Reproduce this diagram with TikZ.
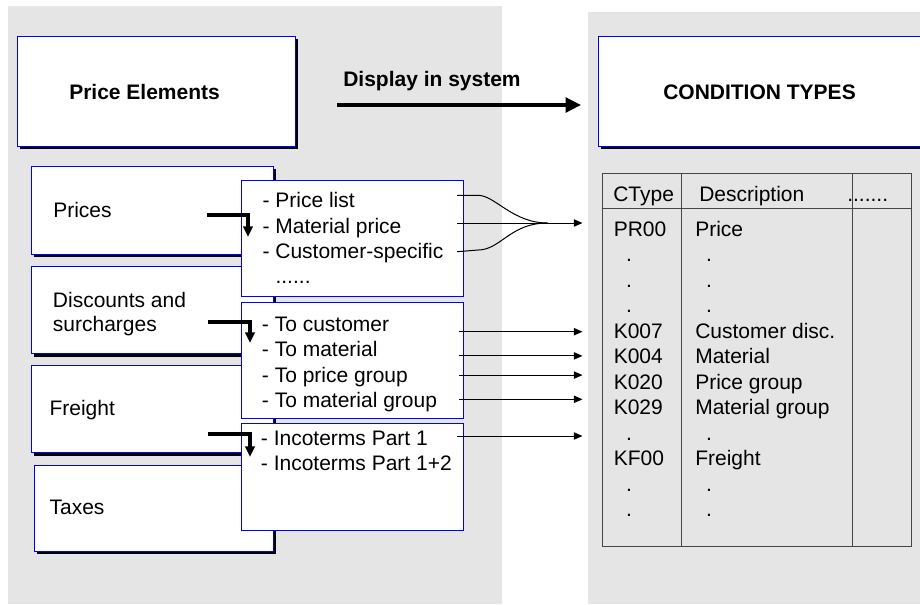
\documentclass[tikz,border=0pt]{standalone}
\usepackage{fontspec}
\setmainfont{Liberation Sans}
\usetikzlibrary{positioning,calc,arrows.meta,shadows}
\definecolor{panelgray}{RGB}{229,229,229}
\definecolor{rulegray}{RGB}{70,70,70}
\newcommand{\diagfont}{\fontsize{15.75}{19.2}\selectfont}
\tikzstyle{panel}=[fill=panelgray]
\tikzstyle{framebox}=[draw=blue, fill=white, line width=0.75pt, inner sep=0, outer sep=0]
\tikzstyle{shadowbox}=[framebox, general shadow={fill=black, shadow xshift=2.25pt, shadow yshift=-2.25pt}]
\tikzstyle{itemtext}=[inner sep=0, anchor=base west, text height=12pt, text depth=3pt, font=\diagfont]
\tikzstyle{titletext}=[itemtext, font=\diagfont\bfseries]
\tikzstyle{conn}=[line width=0.75pt, -{Triangle[length=6.5pt, width=5.5pt]}]
\tikzstyle{bentarrow}=[line width=2.5pt, -{Triangle[length=8pt, width=7pt]}]
\tikzstyle{bigarrow}=[line width=2.5pt, -{Triangle[length=11.5pt, width=11pt]}]
\tikzstyle{tablerule}=[draw=rulegray, line width=0.75pt]

\begin{document}
\begin{tikzpicture}[x=0.75pt, y=-0.75pt]
    \useasboundingbox (0,0) rectangle (920,604);
    \clip (0,0) rectangle (920,604);
    % grey panels
    \fill[panel] (8,6) rectangle (502,604);
    \fill[panel] (588,12) rectangle (920,604);

    % headings
    \node[shadowbox, minimum width=262.5pt, minimum height=82.5pt] (ctypes) at (773,91) {};
    \node[shadowbox, minimum width=208.5pt, minimum height=82.5pt] (elem) at (156,91) {};
    \node[titletext] (elemlabel) at (69,99.3) {Price Elements};
    \node[titletext, anchor=base] (ctypeslabel) at (759.5,99.3) {CONDITION TYPES};
    \node[titletext] (displabel) at (343,86) {Display in system};
    \draw[bigarrow] ($(elem.east)+(42,14)$) -- ($(ctypes.west)+(-17,14)$);

    % price elements
    \node[shadowbox, minimum width=181.5pt, minimum height=66pt] (prices) at (152,210) {};
    \node[shadowbox, minimum width=181.5pt, minimum height=65.25pt, below=9.5pt of prices] (disc) {};
    \node[shadowbox, minimum width=181.5pt, minimum height=65.25pt, below=9pt of disc] (freight) {};
    \node[shadowbox, minimum width=179.25pt, minimum height=64.5pt, below=9.5pt of freight.south east, anchor=north east] (taxes) {};
    \node[itemtext] (priceslabel) at (53,217.3) {Prices};
    \node[itemtext] (disclabel) at (52.7,307.3) {Discounts and};
    \node[itemtext] (surchlabel) at (52.7,331.7) {surcharges};
    \node[itemtext] (freightlabel) at (49.3,415) {Freight};
    \node[itemtext] (taxeslabel) at (49.3,514) {Taxes};

    % detail lists
    \node[framebox, minimum width=166.5pt, minimum height=87pt] (pop1) at (352,238) {};
    \node[framebox, minimum width=166.5pt, minimum height=87pt] (pop2) at (352,360) {};
    \node[framebox, minimum width=166.5pt, minimum height=80.25pt] (pop3) at (352,476.5) {};
    \foreach \txt [count=\i] in {Price list, Material price, Customer-specific}
        \node[itemtext] (pl\i) at (262.3,{207.3+25.7*(\i-1)}) {- \txt};
    \node[itemtext] (pldots) at (275.3,283.3) {......};
    \foreach \txt [count=\i] in {To customer, To material, To price group, To material group}
        \node[itemtext] (dc\i) at (261.7,{331.7+25.2*(\i-1)}) {- \txt};
    \foreach \txt [count=\i] in {Incoterms Part 1, Incoterms Part 1+2}
        \node[itemtext] (ic\i) at (260.7,{445+25.7*(\i-1)}) {- \txt};

    % bent arrows into the lists
    \coordinate (pricesout) at (207,215);
    \coordinate (pricesin) at (248,237);
    \coordinate (discout) at (208,322);
    \coordinate (discin) at (250,343);
    \coordinate (freightout) at (208,434);
    \coordinate (freightin) at (250,457);
    \draw[bentarrow] (pricesout) -| (pricesin);
    \draw[bentarrow] (discout) -| (discin);
    \draw[bentarrow] (freightout) -| (freightin);

    % condition type table
    \node[tablerule, minimum width=231.75pt, minimum height=279.75pt, inner sep=0] (ctab) at (756.5,359.5) {};
    \draw[tablerule] (ctab.west |- 0,208) -- (ctab.east |- 0,208);
    \foreach \cx in {681,852}
        \draw[tablerule] (\cx,0 |- ctab.north) -- (\cx,0 |- ctab.south);
    \node[itemtext] (hctype) at (613,201.7) {CType};
    \node[itemtext] (hdesc) at (699,201.7) {Description};
    \node[itemtext] (hmore) at (847,201.7) {.......};
    \foreach \code/\desc/\row in {PR00/Price/0, K007/Customer disc./4, K004/Material/5,
                                  K020/Price group/6, K029/Material group/7, KF00/Freight/9} {
        \node[itemtext] (code\row) at (613.5,{236+25.5*\row}) {\code};
        \node[itemtext] (desc\row) at (695,{236+25.5*\row}) {\desc};
    }
    \foreach \row in {1,2,3,8,10,11} {
        \node[itemtext, anchor=base] (cdot\row) at (629,{236+25.5*\row}) {.};
        \node[itemtext, anchor=base] (ddot\row) at (709,{236+25.5*\row}) {.};
    }

    % connectors to the table
    \coordinate (fan) at ($(ctab.west |- pl2)+(-54,-4)$);
    \draw[conn] ($(pop1.east |- pl2)+(-6,-4)$) -- ($(ctab.west |- pl2)+(-19,-4)$);
    \draw[line width=0.75pt] ($(pop1.east |- pl1)+(-6,-6)$) -- ++(21,0) .. controls +(17,0) and +(-35,0) .. (fan);
    \draw[line width=0.75pt] ($(pop1.east |- pl3)+(-6,-1)$) -- ++(25,-2) .. controls +(20,-3) and +(-35,0) .. (fan);
    \foreach \i/\dy in {1/6, 2/5, 3/-1, 4/-2}
        \draw[conn] ($(pop2.east |- dc\i)+(-4,\dy)$) -- ($(ctab.west |- dc\i)+(-19,\dy)$);
    \draw[conn] ($(pop3.east |- ic1)+(-6,-3)$) -- ($(ctab.west |- ic1)+(-19,-3)$);
\end{tikzpicture}
\end{document}
